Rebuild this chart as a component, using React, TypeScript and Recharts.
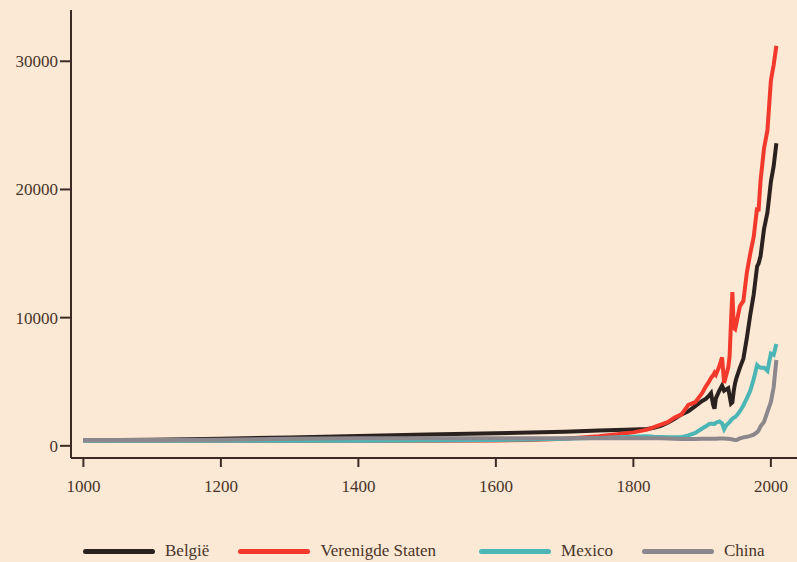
import { LineChart, Line, XAxis, YAxis, Legend } from 'recharts';

// GDP per head
const years = [
  1000, 1100, 1200, 1300, 1400, 1500, 1600, 1650, 1700, 1750, 1800, 1820, 1830, 1840, 1850,
  1860, 1870, 1880, 1890, 1900, 1905, 1910, 1913, 1916, 1918, 1920, 1925, 1929, 1932, 1935,
  1938, 1940, 1942, 1944, 1946, 1948, 1950, 1955, 1960, 1965, 1970, 1975, 1980, 1982, 1985,
  1990, 1995, 2000, 2004, 2008,
];

const belgie = [
  430, 480, 560, 650, 760, 880, 980, 1040, 1100, 1200, 1280, 1320, 1400, 1550, 1800,
  2100, 2450, 2700, 3100, 3500, 3650, 3900, 4100, 3200, 2900, 3700, 4300, 4700, 4300, 4400,
  4500, 3900, 3300, 3400, 4300, 4900, 5300, 6100, 6800, 8400, 10200, 11800, 14000, 14200, 14800,
  16900, 18200, 20600, 21800, 23600,
];

const verenigdeStaten = [
  400, 400, 400, 400, 400, 400, 420, 450, 560, 750, 1050, 1260, 1450, 1650, 1850,
  2200, 2450, 3200, 3400, 4100, 4600, 5000, 5300, 5500, 5700, 5550, 6200, 6900, 4900, 5500,
  6100, 7000, 9700, 12000, 9200, 9100, 9600, 10900, 11300, 13500, 15000, 16300, 18600, 18300, 20700,
  23200, 24600, 28500, 29700, 31200,
];

const mexico = [
  400, 400, 400, 400, 400, 420, 450, 500, 560, 620, 700, 750, 700, 680, 670,
  670, 670, 820, 1000, 1350, 1500, 1700, 1730, 1700, 1700, 1800, 1900, 1750, 1300, 1600,
  1750, 1850, 2000, 2100, 2200, 2250, 2350, 2700, 3150, 3700, 4300, 5200, 6300, 6200, 6100,
  6100, 5850, 7200, 7100, 7950,
];

const china = [
  450, 460, 480, 550, 600, 600, 600, 600, 600, 600, 600, 600, 600, 590, 580,
  550, 530, 540, 540, 545, 550, 550, 550, 560, 560, 560, 565, 570, 570, 560,
  550, 540, 520, 500, 470, 450, 450, 580, 660, 700, 780, 870, 1060, 1190, 1520,
  1870, 2650, 3420, 4550, 6700,
];

const xTicks = [1000, 1200, 1400, 1600, 1800, 2000];
const yTicks = [0, 10000, 20000, 30000];

const series = [
  { key: 'belgie', name: 'België', color: '#2b2220' },
  { key: 'vs', name: 'Verenigde Staten', color: '#f2392c' },
  { key: 'mexico', name: 'Mexico', color: '#4cb6b6' },
  { key: 'china', name: 'China', color: '#8b878c' },
];

const data = years.map((year, i) => ({
  year,
  belgie: belgie[i],
  vs: verenigdeStaten[i],
  mexico: mexico[i],
  china: china[i],
}));

const axisColor = '#3b2b24';
const textColor = '#4a3429';
const font = '"Liberation Serif", "DejaVu Serif", serif';

function LegendContent() {
  // order: België, VS, Mexico, China (drawn bottom-up reversed below)
  return (
    <div
      style={{
        display: 'flex',
        alignItems: 'center',
        height: 22,
        paddingLeft: 83,
        fontFamily: font,
        fontSize: 17,
        color: textColor,
      }}
    >
      {series.map((s, i) => (
        <div key={s.key} style={{ display: 'flex', alignItems: 'center', marginRight: i === 1 ? 43 : 29 }}>
          <div style={{ width: 72, height: 5, borderRadius: 3, background: s.color, marginRight: 10 }} />
          <span>{s.name}</span>
        </div>
      ))}
    </div>
  );
}

export default function App() {
  return (
    <div
      style={{
        position: 'absolute',
        top: 0,
        left: 0,
        width: 797,
        height: 562,
        background: '#fbe9d5',
      }}
    >
      <LineChart
        width={797}
        height={562}
        data={data}
        margin={{ top: 10, right: 0, bottom: 0, left: 0 }}
      >
        <XAxis
          dataKey="year"
          type="number"
          domain={[982, 2038]}
          allowDataOverflow
          ticks={xTicks}
          height={82}
          tickSize={9}
          tickMargin={13}
          stroke={axisColor}
          strokeWidth={2}
          tick={{ fill: textColor, fontSize: 17, fontFamily: font }}
        />
        <YAxis
          type="number"
          domain={[-950, 34000]}
          allowDataOverflow
          ticks={yTicks}
          width={71}
          tickSize={11}
          tickMargin={2}
          stroke={axisColor}
          strokeWidth={2}
          tick={{ fill: textColor, fontSize: 17, fontFamily: font }}
        />
        <Legend verticalAlign="bottom" align="left" height={22} content={() => <LegendContent />} />
        {/* drawn back to front: China sits on top of the flat start */}
        <Line type="linear" dataKey="belgie" name="België" stroke={series[0].color} strokeWidth={4} dot={false} isAnimationActive={false} />
        <Line type="linear" dataKey="vs" name="Verenigde Staten" stroke={series[1].color} strokeWidth={4} dot={false} isAnimationActive={false} />
        <Line type="linear" dataKey="mexico" name="Mexico" stroke={series[2].color} strokeWidth={4} dot={false} isAnimationActive={false} />
        <Line type="linear" dataKey="china" name="China" stroke={series[3].color} strokeWidth={4} dot={false} isAnimationActive={false} />
      </LineChart>
    </div>
  );
}
